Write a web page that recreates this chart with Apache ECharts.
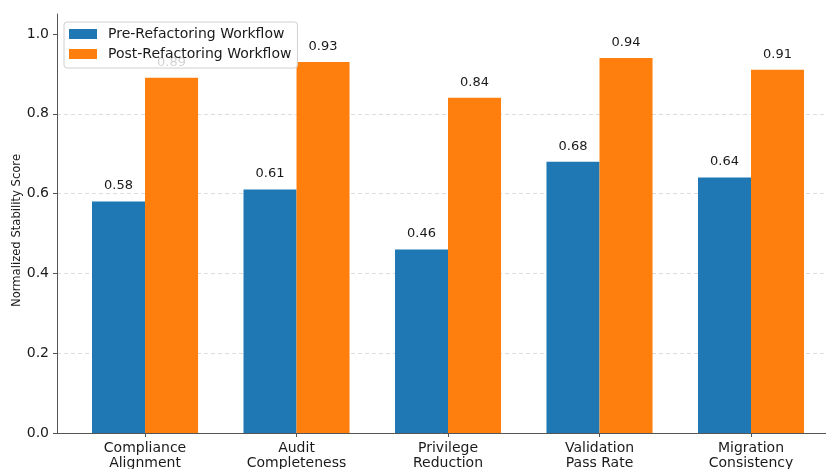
<!DOCTYPE html>
<html>
<head>
<meta charset="utf-8">
<script src="https://cdn.jsdelivr.net/npm/echarts@6/dist/echarts.min.js"></script>
<style>
  html, body { margin: 0; padding: 0; background: #fff; }
  #chart { width: 826px; height: 469px; }
</style>
</head>
<body>
<div id="chart"></div>
<script>
// Workflow metrics, before and after the refactoring
const categories = [
  'Compliance\nAlignment',
  'Audit\nCompleteness',
  'Privilege\nReduction',
  'Validation\nPass Rate',
  'Migration\nConsistency'
];
const preValues = [0.58, 0.61, 0.46, 0.68, 0.64];
const postValues = [0.89, 0.93, 0.84, 0.94, 0.91];
const yTicks = [0, 0.2, 0.4, 0.6, 0.8, 1.0];
const seriesNames = ['Pre-Refactoring Workflow', 'Post-Refactoring Workflow'];

const font = 'DejaVu Sans';
const ink = '#1a1a1a';
const spine = '#555';

const catPositions = categories.map((_, i) => i);

function barSeries(name, values, color) {
  return {
    name: name,
    type: 'bar',
    barWidth: '35%',
    barGap: '0%',
    itemStyle: { color: color },
    label: {
      show: true,
      position: 'top',
      distance: 9,
      fontFamily: font,
      fontSize: 13,
      color: ink,
      formatter: p => p.value[1].toFixed(2)
    },
    data: values.map((v, i) => [i, v])
  };
}

const chart = echarts.init(document.getElementById('chart'), null, { renderer: 'canvas' });
chart.setOption({
  animation: false,
  backgroundColor: '#fff',
  color: ['#1f77b4', '#ff7f0e'],
  grid: { left: 57, right: 0, top: 14, bottom: 36, containLabel: false, outerBoundsMode: 'none' },
  legend: {
    orient: 'vertical',
    left: 64,
    top: 22,
    padding: [5, 6, 7, 5],
    itemGap: 6,
    itemWidth: 28,
    itemHeight: 10,
    icon: 'rect',
    backgroundColor: 'rgba(255,255,255,0.8)',
    borderColor: '#d0d0d0',
    borderWidth: 1,
    borderRadius: 3,
    textStyle: { fontFamily: font, fontSize: 14, color: ink, lineHeight: 14, padding: [0, 0, 0, 6] },
    data: seriesNames
  },
  xAxis: {
    type: 'value',
    min: -0.581,
    max: 4.495,
    splitLine: { show: false },
    axisLine: { show: true, onZero: false, lineStyle: { color: spine, width: 1 } },
    axisTick: { show: true, customValues: catPositions, length: 4, lineStyle: { color: spine } },
    axisLabel: {
      customValues: catPositions,
      margin: 8,
      fontFamily: font,
      fontSize: 14,
      lineHeight: 15,
      color: ink,
      formatter: v => categories[Math.round(v)]
    }
  },
  yAxis: {
    type: 'value',
    min: 0,
    max: 1.05,
    name: 'Normalized Stability Score',
    nameLocation: 'middle',
    nameRotate: 90,
    nameGap: 34,
    nameMoveOverlap: false,
    nameTextStyle: { fontFamily: font, fontSize: 11.6, color: ink, padding: [0, 14, 0, 0] },
    axisLine: { show: true, onZero: false, lineStyle: { color: spine, width: 1 } },
    axisTick: { show: true, customValues: yTicks, length: 4, lineStyle: { color: spine } },
    axisLabel: {
      customValues: yTicks,
      margin: 8,
      fontFamily: font,
      fontSize: 14,
      color: ink,
      formatter: v => v.toFixed(1)
    },
    splitLine: {
      show: true,
      showMinLine: false,
      showMaxLine: false,
      lineStyle: { color: '#dcdcdc', type: [4, 3], width: 1 }
    }
  },
  series: [
    barSeries(seriesNames[0], preValues, '#1f77b4'),
    barSeries(seriesNames[1], postValues, '#ff7f0e')
  ]
});
</script>
</body>
</html>
